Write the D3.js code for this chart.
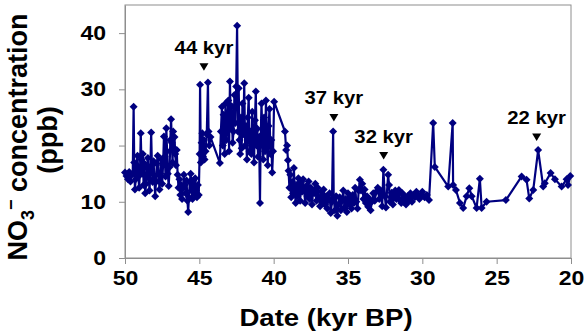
<!DOCTYPE html>
<html>
<head>
<meta charset="utf-8">
<script src="https://cdn.jsdelivr.net/npm/d3@7"></script>
<style>
  body { margin: 0; background: #fff; }
  text { font-family: "Liberation Sans", Arial, sans-serif; font-weight: bold; fill: #000; }
</style>
</head>
<body>
<div id="chart"></div>
<script>
// sample ages (kyr BP) and nitrate concentrations (ppb), row by row
var ageKyr = [
  50.00, 49.90, 49.80, 49.72, 49.63, 49.55, 49.48, 49.42, 49.38, 49.33,
  49.28, 49.22, 49.16, 49.10, 49.05, 48.99, 48.94, 48.90, 48.85, 48.80,
  48.75, 48.70, 48.64, 48.58, 48.52, 48.46, 48.40, 48.35, 48.30, 48.24,
  48.19, 48.14, 48.08, 48.02, 47.97, 47.92, 47.86, 47.80, 47.74, 47.68,
  47.62, 47.56, 47.50, 47.44, 47.38, 47.33, 47.27, 47.22, 47.17, 47.12,
  47.06, 47.00, 46.95, 46.90, 46.85, 46.80, 46.76, 46.72, 46.67, 46.62,
  46.57, 46.52, 46.46, 46.40, 46.34, 46.28, 46.22, 46.16, 46.10, 46.04,
  45.98, 45.92, 45.86, 45.80, 45.75, 45.70, 45.64, 45.58, 45.52, 45.46,
  45.40, 45.34, 45.28, 45.22, 45.16, 45.10, 45.04, 44.98, 44.95, 44.90,
  44.85, 44.80, 44.75, 44.70, 44.65, 44.58, 44.50, 44.42, 44.38, 44.33,
  44.25, 43.62, 43.55, 43.48, 43.42, 43.37, 43.30, 43.24, 43.18, 43.12,
  43.05, 43.00, 42.94, 42.88, 42.82, 42.76, 42.70, 42.64, 42.58, 42.52,
  42.46, 42.40, 42.35, 42.30, 42.25, 42.20, 42.15, 42.10, 42.04, 41.98,
  41.92, 41.86, 41.80, 41.74, 41.68, 41.62, 41.56, 41.50, 41.44, 41.38,
  41.32, 41.26, 41.20, 41.15, 41.10, 41.05, 40.98, 40.92, 40.88, 40.82,
  40.76, 40.70, 40.64, 40.58, 40.52, 40.46, 40.40, 40.34, 40.28, 40.22,
  40.16, 40.10, 40.04, 39.97, 39.24, 39.16, 39.10, 39.04, 39.00, 38.94,
  38.88, 38.82, 38.76, 38.70, 38.64, 38.58, 38.52, 38.46, 38.40, 38.34,
  38.28, 38.22, 38.16, 38.10, 38.02, 37.95, 37.88, 37.80, 37.72, 37.65,
  37.58, 37.50, 37.42, 37.35, 37.28, 37.20, 37.12, 37.04, 36.96, 36.88,
  36.80, 36.72, 36.64, 36.56, 36.48, 36.40, 36.32, 36.24, 36.16, 36.08,
  36.00, 35.96, 35.88, 35.80, 35.72, 35.64, 35.56, 35.48, 35.40, 35.32,
  35.24, 35.16, 35.08, 35.00, 34.92, 34.84, 34.76, 34.68, 34.60, 34.52,
  34.44, 34.36, 34.28, 34.20, 34.12, 34.04, 33.96, 33.88, 33.80, 33.72,
  33.64, 33.56, 33.48, 33.40, 33.30, 33.20, 33.10, 33.00, 32.90, 32.80,
  32.70, 32.62, 32.52, 32.45, 32.30, 32.24, 32.18, 32.12, 32.06, 31.98,
  31.90, 31.82, 31.74, 31.66, 31.58, 31.50, 31.42, 31.34, 31.26, 31.18,
  31.10, 31.00, 30.90, 30.80, 30.70, 30.60, 30.50, 30.40, 30.30, 30.20,
  30.10, 30.00, 29.85, 29.70, 29.55, 29.27, 29.16, 28.26, 27.96, 27.93,
  27.74, 27.47, 27.25, 27.02, 26.84, 26.68, 26.35, 26.13, 26.01, 25.68,
  24.38, 23.32, 22.99, 22.81, 22.54, 22.21, 21.87, 21.76, 21.37, 21.08,
  20.63, 20.30, 20.20, 20.05
];

var no3Ppb = [
  15.2, 14.6, 14.0, 15.3, 13.6, 14.8, 15.0, 26.9, 17.0, 12.2,
  14.0, 16.5, 18.2, 14.5, 12.5, 15.5, 22.2, 17.5, 15.0, 18.5,
  13.0, 16.8, 11.5, 13.2, 16.0, 17.8, 14.2, 12.0, 15.2, 22.3,
  16.5, 13.5, 17.2, 14.0, 11.0, 13.5, 16.8, 18.2, 14.8, 12.2,
  15.0, 17.5, 13.2, 16.5, 21.6, 18.0, 14.5, 23.1, 19.0, 15.0,
  12.8, 16.2, 21.0, 24.7, 20.5, 17.0, 22.5, 19.5, 21.5, 18.5,
  16.5, 19.2, 14.8, 12.5, 14.0, 11.2, 13.0, 10.5, 12.5, 14.8,
  13.0, 11.5, 13.8, 10.2, 8.2, 10.8, 13.5, 15.0, 12.0, 10.5,
  13.8, 11.5, 14.2, 12.0, 10.8, 13.0, 11.2, 18.5, 30.8, 17.0,
  20.5, 22.2, 18.0, 21.0, 17.5, 19.0, 22.0, 31.2, 22.5, 20.0,
  21.5, 16.9, 22.5, 26.9, 20.0, 25.5, 18.5, 27.5, 21.0, 24.0,
  28.0, 19.0, 31.4, 23.0, 27.0, 20.5, 22.5, 29.0, 24.0, 30.5,
  41.3, 22.5, 30.2, 21.0, 18.5, 25.0, 19.5, 27.5, 22.0, 31.1,
  20.0, 23.5, 17.5, 25.0, 28.5, 19.0, 22.5, 18.5, 26.0, 21.0,
  17.0, 24.5, 29.6, 20.0, 23.0, 18.0, 21.5, 9.8, 20.0, 27.5,
  22.0, 17.5, 25.0, 19.0, 28.0, 21.5, 16.5, 23.5, 26.5, 18.5,
  21.0, 15.2, 19.0, 27.8, 22.5, 19.2, 20.0, 17.4, 15.5, 12.5,
  14.8, 10.8, 13.5, 11.5, 16.0, 12.0, 9.8, 13.0, 11.0, 14.2,
  12.5, 10.2, 13.5, 11.8, 14.0, 12.0, 9.8, 12.8, 11.0, 13.6,
  10.5, 12.5, 9.5, 12.0, 11.5, 13.2, 10.2, 12.5, 10.8, 9.2,
  11.8, 10.0, 12.2, 9.5, 11.0, 8.8, 10.5, 11.5, 8.0, 10.0,
  22.5, 10.5, 8.5, 11.0, 7.5, 9.5, 10.8, 8.5, 10.2, 12.0,
  9.0, 10.5, 8.2, 11.5, 9.5, 10.8, 8.8, 11.2, 9.8, 12.5,
  10.0, 8.8, 12.0, 13.9, 12.0, 13.2, 10.5, 12.2, 9.8, 11.0,
  9.1, 10.5, 8.5, 10.0, 11.5, 10.2, 11.8, 12.5, 10.5, 12.0,
  9.2, 15.7, 11.0, 9.0, 14.8, 13.0, 10.0, 10.8, 11.6, 9.5,
  10.8, 12.0, 10.5, 11.2, 12.1, 10.3, 9.8, 11.5, 10.0, 10.9,
  9.5, 11.0, 10.2, 11.5, 10.0, 11.2, 10.8, 11.8, 11.2, 10.5,
  11.0, 11.8, 10.8, 11.2, 10.3, 24.0, 16.2, 12.7, 24.0, 13.0,
  12.1, 9.8, 8.9, 11.0, 12.4, 11.0, 8.9, 14.1, 8.9, 10.0,
  10.3, 14.5, 13.9, 10.6, 12.1, 19.2, 12.7, 13.3, 15.1, 14.0,
  12.7, 14.0, 13.0, 14.6
];

var xTicks = [50, 45, 40, 35, 30, 25, 20];
var yTicks = [0, 10, 20, 30, 40];

// marked events: label, age of the arrow, level of the arrow tip
var eventLabels = ["44 kyr", "37 kyr", "32 kyr", "22 kyr"];
var eventAge = [44.69, 35.95, 32.6, 22.31];
var eventLevel = [33.3, 24.3, 17.5, 20.8];

var svgWidth = 584;
var svgHeight = 335;

var margin = {
    top: 5,
    right: 13,
    bottom: 77,
    left: 125
};

var width = svgWidth - margin.left - margin.right;
var height = svgHeight - margin.top - margin.bottom;

var axisGrey = "#8e8e8e";
var navy = "#000080";

var svg = d3.select("#chart")
    .append("svg")
    .attr("width", svgWidth)
    .attr("height", svgHeight);

var chartGroup = svg.append("g")
    .attr("transform", `translate(${margin.left}, ${margin.top})`);

var xScale = d3.scaleLinear()
    .domain([50, 20])
    .range([0, width]);

var yScale = d3.scaleLinear()
    .domain([0, 45])
    .range([height, 0]);

// plot frame
chartGroup.append("rect")
    .attr("width", width)
    .attr("height", height)
    .attr("fill", "none")
    .attr("stroke", axisGrey);

var bottomAxis = d3.axisBottom(xScale)
    .tickValues(xTicks)
    .tickSize(6)
    .tickSizeOuter(0)
    .tickPadding(7)
    .tickFormat(d3.format("d"));

var leftAxis = d3.axisLeft(yScale)
    .tickValues(yTicks)
    .tickSize(6)
    .tickSizeOuter(0)
    .tickFormat(d3.format("d"));

var xAxisG = chartGroup.append("g")
    .attr("transform", `translate(0, ${height})`)
    .call(bottomAxis);

var yAxisG = chartGroup.append("g")
    .call(leftAxis);

[xAxisG, yAxisG].forEach(function(g) {
    g.attr("color", axisGrey)
        .attr("font-size", 20)
        .attr("font-family", null);
    g.selectAll(".tick text").attr("fill", "#000");
});

// the tick digits are set a bit wide
xAxisG.selectAll(".tick text")
    .attr("transform", "scale(1.15,1)");
yAxisG.selectAll(".tick text")
    .attr("x", -19 / 1.15)
    .attr("transform", "scale(1.15,1)");

var idx = d3.range(ageKyr.length);

var line = d3.line()
    .x(i => xScale(ageKyr[i]))
    .y(i => yScale(no3Ppb[i]));

chartGroup.append("path")
    .datum(idx)
    .attr("d", line)
    .attr("fill", "none")
    .attr("stroke", navy)
    .attr("stroke-width", 2.2)
    .attr("stroke-linejoin", "round");

var r = 4;
chartGroup.selectAll(".pt")
    .data(idx)
    .enter()
    .append("path")
    .attr("class", "pt")
    .attr("transform", i => `translate(${xScale(ageKyr[i])}, ${yScale(no3Ppb[i])})`)
    .attr("d", `M0,${-r}L${r},0L0,${r}L${-r},0Z`)
    .attr("fill", navy);

// event markers
var events = chartGroup.selectAll(".event")
    .data(eventLabels)
    .enter()
    .append("g")
    .attr("class", "event")
    .attr("transform", (d, i) => `translate(${xScale(eventAge[i])}, ${yScale(eventLevel[i])})`);

events.append("path")
    .attr("d", "M-4.5,-7.5L4.5,-7.5L0,0Z")
    .attr("fill", "#000");

events.append("text")
    .attr("transform", "translate(0,-17) scale(1.16,1)")
    .attr("text-anchor", "middle")
    .attr("font-size", 17.5)
    .text(d => d);

// axis titles
svg.append("text")
    .attr("transform", "translate(326, 326) scale(1.2,1)")
    .attr("text-anchor", "middle")
    .attr("font-size", 23)
    .text("Date (kyr BP)");

var yTitle = svg.append("text")
    .attr("transform", "translate(27, 137) rotate(-90)")
    .attr("text-anchor", "middle")
    .attr("font-size", 27);
yTitle.append("tspan").text("NO");
yTitle.append("tspan").attr("font-size", 18).attr("dy", 7).text("3");
yTitle.append("tspan").attr("font-size", 18).attr("dy", -17).text("\u2212");
yTitle.append("tspan").attr("dy", 10).text(" concentration");

svg.append("text")
    .attr("transform", "translate(57, 140) rotate(-90)")
    .attr("text-anchor", "middle")
    .attr("font-size", 27)
    .text("(ppb)");
</script>
</body>
</html>
